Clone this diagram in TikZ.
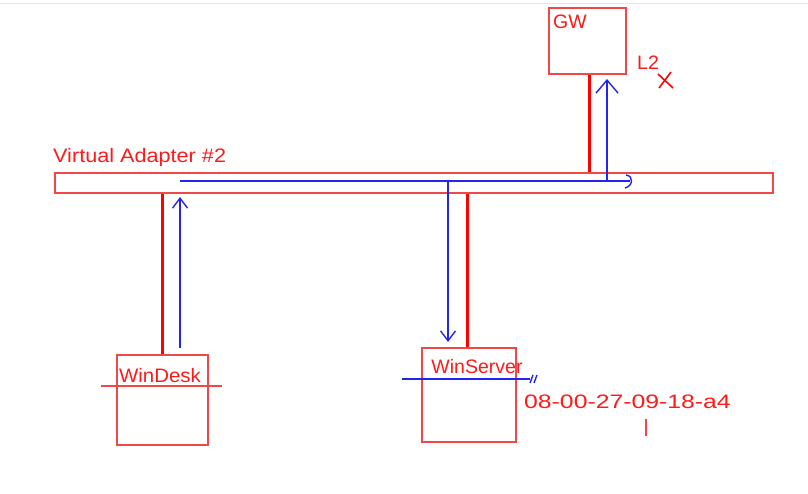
\documentclass[tikz,border=0pt]{standalone}
\usepackage{fontspec}
\setmainfont{Liberation Sans}
\usetikzlibrary{arrows.meta,calc}
\definecolor{boxred}{HTML}{F04848}
\definecolor{linered}{HTML}{FF0000}
\definecolor{txtred}{HTML}{FF1A1A}
\definecolor{flowblue}{HTML}{2424F0}
\tikzset{
  hostbox/.style={draw=boxred,line width=1.4pt,inner sep=0pt},
  barbox/.style={draw=boxred,line width=1.4pt,inner sep=0pt,minimum width=718pt,minimum height=20pt},
  link/.style={draw=linered,line width=3pt},
  thinred/.style={draw=boxred,line width=1.2pt},
  xmark/.style={draw=linered,line width=1.6pt},
  flow/.style={draw=flowblue,line width=1.4pt},
  flowarrow/.style={flow,-{Straight Barb[length=10pt,width=15pt,line width=1.4pt]}},
  bigflowarrow/.style={flow,-{Straight Barb[length=13pt,width=22pt,line width=1.4pt]}},
  lbl/.style={text=txtred,inner sep=0pt,font=\fontsize{19.5}{22}\selectfont}
}
\begin{document}
\begin{tikzpicture}[x=1pt,y=-1pt]
\useasboundingbox (0,0) rectangle (808,494);
% faint window strip at top
\draw[gray!20,line width=0.8pt] (0,3.5) -- (808,3.5);

% hosts and bar
\node[barbox] (bar) at (414,183) {};
\node[hostbox,minimum width=77pt,minimum height=66pt] (GW) at (587.5,41) {};
\node[hostbox,minimum width=91pt,minimum height=90pt] (WinDesk) at (162.5,400) {};
\node[hostbox,minimum width=94pt,minimum height=94pt] (WinServer) at (469,395) {};

% labels
\node[lbl,anchor=west] (gwlbl) at (553,22) {GW};
\node[lbl,anchor=west] (barlbl) at (53,157) {\scalebox{1.11}[1]{Virtual Adapter \#2}};
\node[lbl,anchor=west] (l2) at (637,63) {L2};
\node[lbl] (wdlbl) at (160,376) {\scalebox{1.05}[1]{WinDesk}};
\node[lbl] (wslbl) at (477,367) {WinServer};
\node[lbl,anchor=west] (mac) at (524,402) {\scalebox{1.27}[1]{08-00-27-09-18-a4}};

% red links
\coordinate (gx) at (589,0);
\coordinate (dx) at (162,0);
\coordinate (sx) at (467,0);
\draw[link] (GW.south -| gx) -- (bar.north -| gx);
\draw[link] (bar.south -| dx) -- (WinDesk.north -| dx);
\draw[link] (bar.south -| sx) -- (WinServer.north -| sx);

% thin red marks
\coordinate (wdl) at (101,386);
\coordinate (wdr) at (222,386);
\draw[thinred] (wdl) -- (wdr);
\coordinate (cur1) at (646,419);
\coordinate (cur2) at (646,436);
\draw[thinred] (cur1) -- (cur2);
\coordinate (xa) at (658,74);
\coordinate (xb) at (673,88);
\coordinate (xc) at (659,88);
\coordinate (xd) at (671,72);
\draw[xmark] (xa) -- (xb);
\draw[xmark] (xc) -- (xd);

% blue flow
\coordinate (d0) at (180,348);
\coordinate (d1) at (180,197);
\coordinate (h0) at (180,181);
\coordinate (h1) at (630,181);
\coordinate (s0) at (448,181);
\coordinate (s1) at (448,342);
\coordinate (g0) at (607,181);
\coordinate (g1) at (607,79);
\coordinate (w0) at (402,379);
\coordinate (w1) at (530,379);
\draw[flowarrow] (d0) -- (d1);
\draw[flow] (h0) -- (h1);
\draw[flow] (626,175) .. controls (634,176) and (633,186) .. (625,188);
\draw[flowarrow] (s0) -- (s1);
\draw[bigflowarrow] (g0) -- (g1);
\draw[flow] (w0) -- (w1);
\draw[flow] (530,383) -- (533,375);
\draw[flow] (534,383) -- (537,375);
\end{tikzpicture}
\end{document}
